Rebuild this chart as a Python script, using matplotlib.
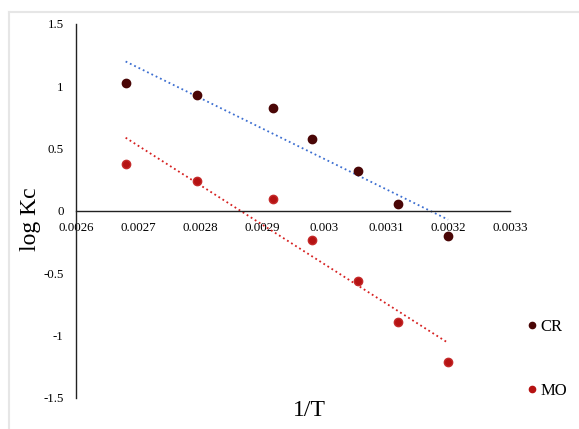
import numpy as np
import matplotlib.pyplot as plt
from matplotlib.lines import Line2D

plt.rcParams['font.family'] = ['Liberation Serif', 'DejaVu Serif']

# 1/T values and log Kc for the two dyes
inv_t = [0.00268, 0.002795, 0.002917, 0.00298, 0.003054, 0.00312, 0.0032]
cr_logkc = [1.03, 0.93, 0.83, 0.58, 0.32, 0.06, -0.20]
mo_logkc = [0.38, 0.24, 0.10, -0.23, -0.56, -0.89, -1.21]

xticks = [0.0026, 0.0027, 0.0028, 0.0029, 0.003, 0.0031, 0.0032, 0.0033]
xticklabels = ['0.0026', '0.0027', '0.0028', '0.0029', '0.003', '0.0031', '0.0032', '0.0033']
yticks = [-1.5, -1, -0.5, 0, 0.5, 1, 1.5]
yticklabels = ['-1.5', '-1', '-0.5', '0', '0.5', '1', '1.5']

cr_color = '#4a0606'
mo_color = '#b51212'

fig = plt.figure(figsize=(5.79, 4.29), dpi=100)
ax = fig.add_axes([0.1313, 0.0723, 0.7496, 0.8718])

x = np.array(inv_t)
ax.plot(x, cr_logkc, 'o', color=cr_color, ms=6, label='CR', zorder=3)
ax.plot(x, mo_logkc, 'o', color=mo_color, mec='#c42a2a', ms=6, label='MO', zorder=3)

# linear trendlines (Excel style)
p_cr = np.polyfit(x, cr_logkc, 1)
p_mo = np.polyfit(x, mo_logkc, 1)
ax.plot(x, np.polyval(p_cr, x), ':', color='#3d6fd1', lw=1.3, zorder=2)
ax.plot(x, np.polyval(p_mo, x), ':', color='#d62020', lw=1.3, zorder=2)

ax.set_xlim(0.0026, 0.0033)
ax.set_ylim(-1.5, 1.5)
ax.set_xticks(xticks)
ax.set_xticklabels(xticklabels)
ax.set_yticks(yticks)
ax.set_yticklabels(yticklabels)
ax.tick_params(length=0, labelsize=9.3)
ax.tick_params(axis='x', pad=8)
ax.tick_params(axis='y', pad=9)

ax.spines['top'].set_visible(False)
ax.spines['right'].set_visible(False)
ax.spines['bottom'].set_position(('data', 0))
for s in ['left', 'bottom']:
    ax.spines[s].set_color('#222222')
    ax.spines[s].set_linewidth(1.0)

fig.text(0.052, 0.49, 'log Kc', rotation=90, fontsize=17, ha='center', va='center')
fig.text(0.535, 0.044, '1/T', fontsize=17, ha='center', va='center')

handles = [Line2D([], [], marker='o', ls='', color=cr_color, ms=4.5),
           Line2D([], [], marker='o', ls='', color=mo_color, ms=4.5)]
fig.legend(handles, ['CR', 'MO'], loc='center left', bbox_to_anchor=(0.895, 0.163),
           frameon=False, fontsize=12, labelspacing=2.9, handlelength=0.6,
           handletextpad=0.25, borderpad=0)

# light frame of the screenshot
fig.add_artist(Line2D([0.0155, 1], [0.972, 0.972], color='#e6e6e6', lw=1.5))
fig.add_artist(Line2D([0.0155, 0.0155], [0, 0.972], color='#e6e6e6', lw=1.5))

fig.savefig('out.png', dpi=100)
